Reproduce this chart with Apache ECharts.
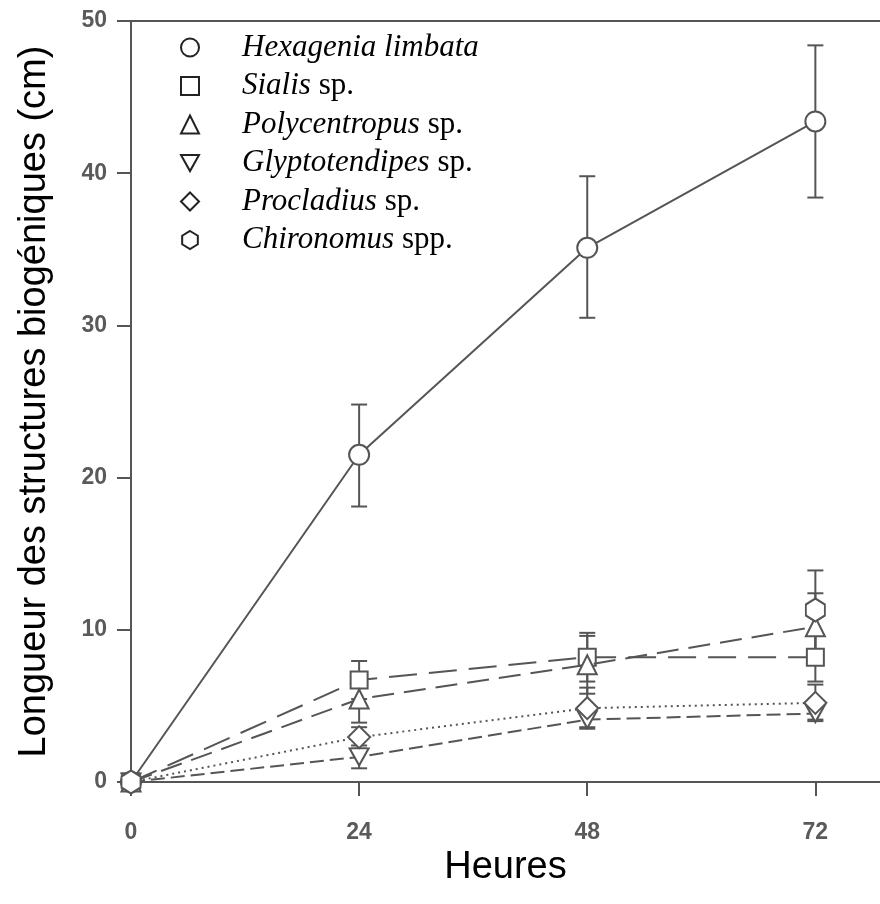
<!DOCTYPE html>
<html>
<head>
<meta charset="utf-8">
<script src="https://cdn.jsdelivr.net/npm/echarts@6/dist/echarts.min.js"></script>
<style>
  html, body { margin: 0; padding: 0; background: #fff; }
  #chart { width: 880px; height: 904px; }
</style>
</head>
<body>
<div id="chart"></div>
<script>
// heures d'observation
const hours = [0, 24, 48, 72];

// noms (partie italique + suffixe)
const genus = ['Hexagenia limbata', 'Sialis', 'Polycentropus', 'Glyptotendipes', 'Procladius', 'Chironomus'];
const suffix = ['', ' sp.', ' sp.', ' sp.', ' sp.', ' spp.'];

// moyennes (cm)
const hexagenia = [0, 21.5, 35.1, 43.4];
const sialis = [0, 6.7, 8.2, 8.2];
const polycentropus = [0, 5.45, 7.7, 10.2];
const glyptotendipes = [0, 1.65, 4.1, 4.5];
const procladius = [0, 2.95, 4.85, 5.2];
const chironomus = [0, null, null, 11.3];

// bornes des barres d'erreur
const hexageniaLow = [0, 18.1, 30.5, 38.4];
const hexageniaHigh = [0, 24.8, 39.8, 48.4];
const sialisLow = [0, 5.45, 6.6, 6.6];
const sialisHigh = [0, 7.95, 9.8, 9.8];
const polycentropusLow = [0, 3.9, 5.8, 8.0];
const polycentropusHigh = [0, 7.0, 9.6, 12.4];
const glyptotendipesLow = [0, 0.9, 3.5, 4.1];
const glyptotendipesHigh = [0, 2.4, 4.7, 4.9];
const procladiusLow = [0, 2.2, 3.6, 4.0];
const procladiusHigh = [0, 3.6, 6.2, 6.4];
const chironomusLow = [0, null, null, 8.7];
const chironomusHigh = [0, null, null, 13.9];

const ink = '#555';
const names = genus.map((g, i) => g + suffix[i]);

const downTri = 'path://M0,0 L20,0 L10,18 Z';
const hexagon = 'path://M10,0 L20,6 L20,17 L10,23 L0,17 L0,6 Z';

const spec = [
  { mean: hexagenia, lo: hexageniaLow, hi: hexageniaHigh, symbol: 'circle', size: 20, dash: 'solid' },
  { mean: sialis, lo: sialisLow, hi: sialisHigh, symbol: 'rect', size: 17, dash: [28, 12] },
  { mean: polycentropus, lo: polycentropusLow, hi: polycentropusHigh, symbol: 'triangle', size: 19, dash: [22, 10] },
  { mean: glyptotendipes, lo: glyptotendipesLow, hi: glyptotendipesHigh, symbol: downTri, size: [19, 17], dash: [14, 6] },
  { mean: procladius, lo: procladiusLow, hi: procladiusHigh, symbol: 'diamond', size: 22, dash: [2, 4] },
  { mean: chironomus, lo: chironomusLow, hi: chironomusHigh, symbol: hexagon, size: [19, 23], dash: 'solid' }
];

function renderErr(params, api) {
  const x = api.value(0), lo = api.value(1), hi = api.value(2);
  if (lo === hi) return;
  const top = api.coord([x, hi]);
  const bot = api.coord([x, lo]);
  const w = 8;
  const st = { stroke: ink, lineWidth: 2 };
  return {
    type: 'group',
    children: [
      { type: 'line', shape: { x1: top[0], y1: top[1], x2: bot[0], y2: bot[1] }, style: st },
      { type: 'line', shape: { x1: top[0] - w, y1: top[1], x2: top[0] + w, y2: top[1] }, style: st },
      { type: 'line', shape: { x1: bot[0] - w, y1: bot[1], x2: bot[0] + w, y2: bot[1] }, style: st }
    ]
  };
}

const series = [];
spec.forEach((s, i) => {
  series.push({
    name: 'err' + i,
    type: 'custom',
    renderItem: renderErr,
    z: 2,
    silent: true,
    data: hours.map((h, k) => [h, s.lo[k], s.hi[k]]).filter(d => d[1] != null)
  });
});
spec.forEach((s, i) => {
  series.push({
    name: names[i],
    type: 'line',
    z: 3 + i,
    symbol: s.symbol,
    symbolSize: s.size,
    showAllSymbol: true,
    connectNulls: false,
    itemStyle: { color: '#fff', borderColor: ink, borderWidth: 2, opacity: 1 },
    lineStyle: { color: ink, width: 2, type: s.dash },
    emphasis: { disabled: true },
    data: hours.map((h, k) => [h, s.mean[k]])
  });
});

const labelFont = { fontFamily: 'Liberation Sans', fontSize: 23, fontWeight: 'bold', color: '#5a5a5a' };

const chart = echarts.init(document.getElementById('chart'));
chart.setOption({
  animation: false,
  backgroundColor: '#fff',
  grid: { left: 131, top: 21, bottom: 122, right: 0 },
  legend: {
    orient: 'vertical',
    left: 175, top: 27,
    itemWidth: 18, itemHeight: 18, itemGap: 7.5,
    selectedMode: false,
    textStyle: {
      fontFamily: 'Liberation Serif', fontSize: 31, color: '#000', lineHeight: 31,
      rich: {
        g: { width: 38 },
        i: { fontFamily: 'Liberation Serif', fontSize: 31, fontStyle: 'italic', color: '#000' },
        n: { fontFamily: 'Liberation Serif', fontSize: 31, color: '#000' }
      }
    },
    formatter: function (name) {
      const i = names.indexOf(name);
      return '{g|}{i|' + genus[i] + '}' + (suffix[i] ? '{n|' + suffix[i] + '}' : '');
    },
    data: names.map((n, i) => ({
      name: n,
      icon: spec[i].symbol,
      itemStyle: { color: '#fff', borderColor: '#222', borderWidth: 2 }
    }))
  },
  xAxis: [{
    type: 'value',
    min: 0, max: 78.8, interval: 24,
    name: 'Heures',
    nameLocation: 'middle',
    nameGap: 60,
    nameTextStyle: { fontFamily: 'Liberation Sans', fontSize: 38, color: '#000' },
    axisLine: { lineStyle: { color: ink, width: 2 } },
    axisTick: { length: 14, customValues: hours, lineStyle: { color: ink, width: 2 } },
    axisLabel: Object.assign({ margin: 39, customValues: hours }, labelFont),
    splitLine: { show: false }
  }, {
    // trait du cadre en haut
    type: 'value',
    position: 'top',
    min: 0, max: 78.8,
    axisLine: { show: true, lineStyle: { color: ink, width: 2 } },
    axisTick: { show: false },
    axisLabel: { show: false },
    splitLine: { show: false }
  }],
  yAxis: {
    type: 'value',
    min: 0, max: 50, interval: 10,
    name: 'Longueur des structures biogéniques (cm)',
    nameLocation: 'middle',
    nameGap: 77,
    nameTextStyle: { fontFamily: 'Liberation Sans', fontSize: 38, color: '#000' },
    axisLine: { show: true, lineStyle: { color: ink, width: 2 } },
    axisTick: { show: true, length: 14, lineStyle: { color: ink, width: 2 } },
    axisLabel: Object.assign({ margin: 24 }, labelFont),
    splitLine: { show: false }
  },
  series: series
});
</script>
</body>
</html>
